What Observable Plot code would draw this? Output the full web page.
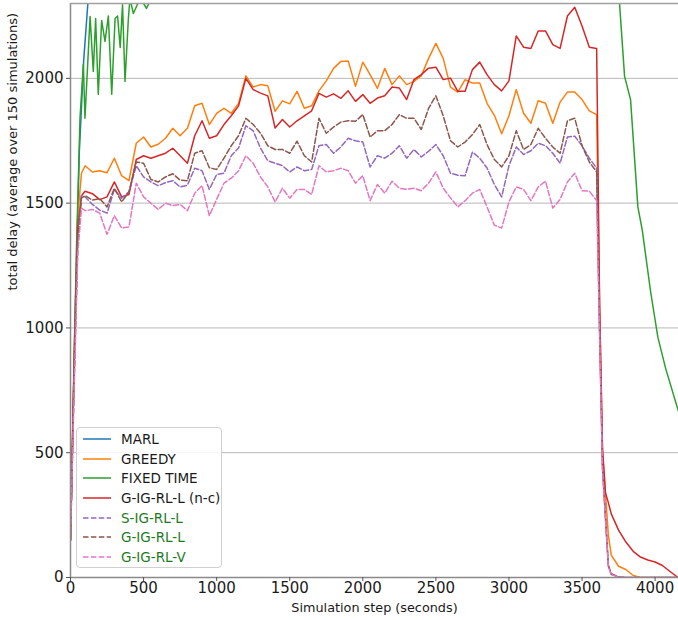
<!DOCTYPE html>
<html>
<head>
<meta charset="utf-8">
<script src="https://cdn.jsdelivr.net/npm/d3@7"></script>
<script src="https://cdn.jsdelivr.net/npm/@observablehq/plot@0.6"></script>
<style>
  html, body { margin: 0; padding: 0; background: #fff; }
  #wrap { position: relative; width: 678px; height: 620px; overflow: hidden; font-family: "DejaVu Sans", sans-serif; }
  #legend { position: absolute; left: 76px; top: 427px; width: 146px; height: 141px; box-sizing: border-box;
    border: 1px solid #d0d0d0; border-radius: 4px; background: rgba(255,255,255,0.85); padding-top: 1px; }
  .row { display: flex; align-items: center; height: 19.7px; font-size: 13.5px; white-space: nowrap; }
  .row svg { margin-left: 6px; margin-right: 10px; }
</style>
</head>
<body>
<div id="wrap"><div id="legend"></div></div>
<script>
// ---- data ----
const steps = [0,25,50,75,
  100,150,200,250,300,350,400,450,500,550,600,650,700,750,800,850,900,950,
  1000,1050,1100,1150,1200,1250,1300,1350,1400,1450,1500,1550,1600,1650,1700,1750,1800,1850,1900,1950,
  2000,2050,2100,2150,2200,2250,2300,2350,2400,2450,2500,2550,2600,2650,2700,2750,2800,2850,2900,2950,
  3000,3050,3100,3150,3200,3250,3300,3350,3400,3450,3500,3550,3600,
  3620,3640,3660,3680,3700,3750,3800,3850,3900,3950,4000,4050,4100,4150,4160];

const greedy = [150,900,1450,1620,
  1650,1625,1630,1622,1680,1610,1590,1740,1765,1725,1736,1760,1800,1770,1800,1890,1900,1815,
  1860,1880,1860,1900,2010,1965,1975,1970,1868,1910,1898,1948,1880,1890,1950,1990,2040,2068,2070,1968,
  2065,2015,1960,2040,1975,2010,1975,1988,2010,2080,2140,2080,1965,1945,1995,1981,1981,1900,1852,1778,
  1850,1955,1860,1820,1910,1900,1820,1905,1945,1945,1915,1870,1855,
  1100,500,340,170,90,45,32,8,0,0,0,0,0,0,0];

const gigrlNc = [150,850,1400,1530,
  1548,1538,1514,1525,1585,1525,1535,1675,1690,1680,1690,1700,1720,1690,1660,1770,1830,1760,
  1770,1815,1850,1890,2000,1955,1941,1930,1801,1835,1805,1830,1850,1870,1940,1925,1938,1920,1950,1908,
  1935,1900,1921,1930,1965,1961,1915,1995,2015,2041,2045,1995,2001,1948,1948,2035,2065,2015,1975,1950,
  1990,2170,2125,2120,2190,2190,2135,2120,2250,2285,2210,2125,2120,
  1100,520,340,300,255,190,142,105,82,70,62,48,25,3,0];

const sigrlL = [150,800,1350,1530,
  1525,1495,1472,1460,1555,1520,1545,1650,1605,1585,1570,1582,1590,1565,1572,1640,1630,1555,
  1615,1620,1690,1721,1810,1790,1720,1670,1660,1650,1625,1645,1630,1635,1730,1735,1700,1725,1760,1750,
  1745,1645,1690,1680,1700,1730,1680,1715,1685,1708,1735,1690,1620,1612,1610,1705,1680,1641,1575,1525,
  1650,1725,1695,1710,1740,1730,1700,1660,1765,1768,1730,1680,1640,
  990,440,240,45,12,2,0,0,0,0,0,0,0,0,0];

const gigrlL = [150,800,1350,1520,
  1530,1512,1518,1485,1560,1505,1545,1665,1660,1595,1585,1605,1618,1592,1590,1700,1710,1642,
  1635,1680,1730,1770,1840,1815,1780,1730,1715,1715,1700,1748,1690,1665,1840,1780,1805,1825,1830,1828,
  1855,1765,1790,1790,1815,1855,1840,1840,1795,1880,1930,1850,1750,1725,1745,1775,1815,1735,1675,1645,
  1690,1790,1715,1735,1800,1760,1725,1700,1830,1840,1730,1665,1625,
  1000,450,250,50,15,3,0,0,0,0,0,0,0,0,0];

const gigrlV = [150,750,1300,1480,
  1470,1475,1460,1375,1450,1400,1405,1580,1525,1500,1475,1500,1490,1495,1470,1540,1570,1450,
  1515,1580,1600,1630,1690,1660,1605,1565,1505,1560,1520,1555,1555,1535,1650,1625,1630,1640,1630,1580,
  1610,1510,1575,1540,1588,1560,1555,1560,1550,1580,1625,1560,1521,1485,1510,1540,1555,1485,1412,1400,
  1505,1565,1555,1510,1565,1588,1480,1515,1585,1620,1550,1548,1510,
  980,430,235,45,12,2,0,0,0,0,0,0,0,0,0];

// MARL leaves the top of the axes almost at once
const marlSteps = [0,30,60,90,120,150,200,400,1000,2000,3000,4160];
const marlDelay = [150,1000,1700,2070,2310,2550,2900,3300,3500,3500,3500,3500];

// FIXED TIME oscillates at the top early on, comes back down after 3750 s
const fixedSteps = [0,40,65,88,99,134,156,172,190,213,236,259,282,305,322,340,356,373,396,407,430,453,480,500,520,544,600,
  1000,2000,3000,3600,3720,3757,3791,3832,3882,3912,3969,4019,4072,4160];
const fixedDelay = [150,1300,1840,2056,1840,2248,2028,2240,1936,2232,2148,2250,1936,2240,2250,2124,2295,1988,2240,2320,2260,2290,2330,2300,2280,2310,2450,
  2800,2900,2900,2800,2600,2296,2008,1915,1485,1392,1146,962,838,665];

const yTicks = [0, 500, 1000, 1500, 2000];
const xTicks = [0, 500, 1000, 1500, 2000, 2500, 3000, 3500, 4000];

const legendLabels = ["MARL", "GREEDY", "FIXED TIME", "G-IG-RL-L (n-c)", "S-IG-RL-L", "G-IG-RL-L", "G-IG-RL-V"];
const legendColors = ["#1f77b4", "#ff7f0e", "#2ca02c", "#d62728", "#9467bd", "#8c564b", "#e377c2"];
const legendDashed = [false, false, false, false, true, true, true];
const legendTextColors = ["#1a1a1a", "#1a1a1a", "#1a1a1a", "#1a1a1a", "#1e7a1e", "#1e7a1e", "#1e7a1e"];

// ---- tables ----
const mainSeries = [
  {name: "GREEDY", values: greedy, color: legendColors[1], dashed: false},
  {name: "G-IG-RL-L (n-c)", values: gigrlNc, color: legendColors[3], dashed: false},
  {name: "S-IG-RL-L", values: sigrlL, color: legendColors[4], dashed: true},
  {name: "G-IG-RL-L", values: gigrlL, color: legendColors[5], dashed: true},
  {name: "G-IG-RL-V", values: gigrlV, color: legendColors[6], dashed: true}
];
const toRows = (xs, ys) => xs.map((x, i) => ({x, y: ys[i]}));
const marlRows = toRows(marlSteps, marlDelay);
const fixedRows = toRows(fixedSteps, fixedDelay);

const DASH = "5.5,2.4";
const lineMarks = [
  Plot.line(marlRows, {x: "x", y: "y", stroke: legendColors[0], strokeWidth: 1.5, clip: true}),
  Plot.line(toRows(steps, greedy), {x: "x", y: "y", stroke: legendColors[1], strokeWidth: 1.5, clip: true}),
  Plot.line(fixedRows, {x: "x", y: "y", stroke: legendColors[2], strokeWidth: 1.5, clip: true}),
  ...mainSeries.slice(1).map(s => Plot.line(toRows(steps, s.values), {
    x: "x", y: "y", stroke: s.color, strokeWidth: 1.5, clip: true,
    strokeDasharray: s.dashed ? DASH : null
  }))
];

const fmt = d3.format("d");

const chart = Plot.plot({
  width: 678,
  height: 620,
  marginLeft: 70,
  marginRight: 0,
  marginTop: 3,
  marginBottom: 43,
  style: {fontFamily: "DejaVu Sans, sans-serif", fontSize: "15px", color: "#1a1a1a", background: "#fff"},
  x: {domain: [0, 4160], label: null},
  y: {domain: [0, 2300], label: null},
  marks: [
    Plot.gridY(yTicks.slice(1), {stroke: "#b0b0b0", strokeOpacity: 1, strokeWidth: 0.9}),
    ...lineMarks,
    Plot.ruleX([0], {stroke: "#8a8a8a", strokeWidth: 1.5}),
    Plot.ruleY([0], {stroke: "#8a8a8a", strokeWidth: 1.5}),
    Plot.ruleY([2300], {stroke: "#a0a0a0", strokeWidth: 1.5}),
    Plot.axisX(xTicks, {tickSize: 4, tickPadding: 1, label: null, stroke: "#555", tickFormat: fmt}),
    Plot.axisY(yTicks, {tickSize: 4, tickPadding: 3, label: null, stroke: "#555", tickFormat: fmt}),
    Plot.text(["Simulation step (seconds)"], {frameAnchor: "bottom", dy: 34, fontSize: 12.8, fill: "#1a1a1a"}),
    Plot.text(["total delay (average over 150 simulations)"], {frameAnchor: "left", rotate: -90, dx: -58, fontSize: 13, fill: "#1a1a1a"})
  ]
});

const wrap = document.getElementById("wrap");
wrap.insertBefore(chart, wrap.firstChild);

// ---- legend ----
const legend = document.getElementById("legend");
legendLabels.forEach((lab, i) => {
  const row = document.createElement("div");
  row.className = "row";
  row.innerHTML = `<svg width="28" height="10"><line x1="0" y1="5" x2="28" y2="5" stroke="${legendColors[i]}" stroke-width="1.5" ${legendDashed[i] ? `stroke-dasharray="${DASH}"` : ""}/></svg><span style="color:${legendTextColors[i]}">${lab}</span>`;
  legend.appendChild(row);
});
</script>
</body>
</html>
